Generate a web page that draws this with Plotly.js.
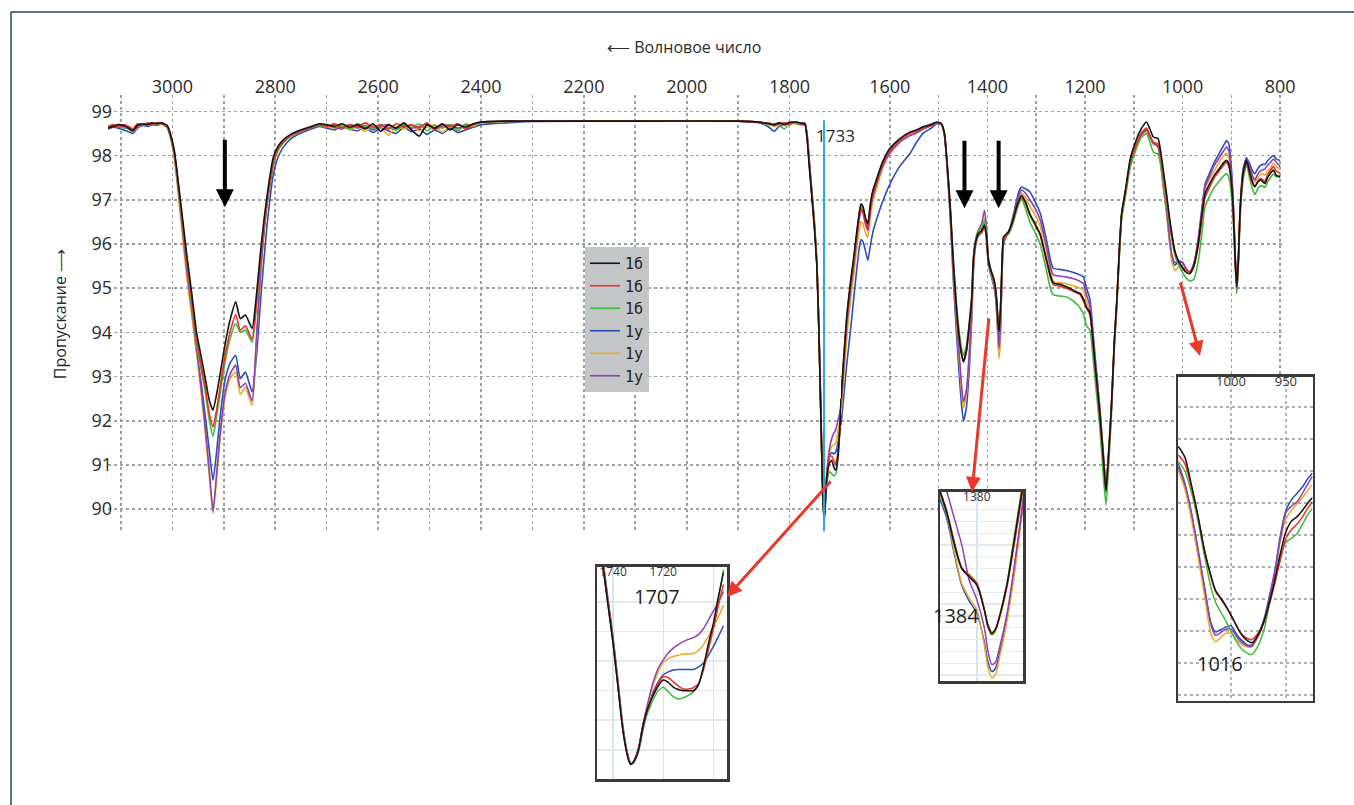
<!DOCTYPE html>
<html><head><meta charset="utf-8">
<script src="https://cdn.plot.ly/plotly-3.0.1.min.js"></script>
<style>html,body{margin:0;padding:0;background:#fff}#chart{width:1354px;height:805px}</style>
</head><body><div id="chart"></div>
<script>
// ---------- main spectrum: wavenumbers (cm-1) ----------
const wavenumber = [
 3125,3115,3105,3095,3085,3077,3068,3058,3048,3040,3030,3021,3010,3004,2996,2988,2980,2972,2962,2953,
 2944,2936,2928,2921,2914,2908,2898,2888,2877,2868,2858,2845,2837,2828,2817,2804,2795,2785,2770,2752,2735,2714,
 2700,2685,2670,2655,2640,2625,2610,2595,2580,2565,2550,2535,2520,2505,2490,2475,2460,2445,2430,2415,2400,
 2380,2350,2300,2100,1900,1860,1850,1840,1830,1820,1810,1800,1790,1780,1774,
 1770,1766,1762,1757,1752,1747,1743,1740,1737,1735,1733,1731,1729,1726,1722,1718,1714,1710,1706,1702,1700,
 1694,1688,1680,1675,1668,1662,1659,1655,1650,1645,
 1640,1635,1630,1615,1600,1580,1559,1545,1532,1515,
 1504,1494,1488,1483,1476,1470,1460,1453,1449,1443,
 1437,1432,1429,1425,1419,1412,1406,1402,1398,1393,
 1388,1384,1381,1378,1376,1373,1370,1367,1362,1357,
 1352,1347,1340,1335,1330,1322,1313,1302,1292,1280,
 1270,1265,1250,1238,1225,1215,1210,1203,1197,1190,
 1180,1170,1162,1157,1152,1146,1140,1135,1130,1125,
 1116,1108,1095,1085,1074,1067,1060,1054,1050,1045,
 1040,1033,1027,1022,1016,1008,1000,992,985,977,
 968,960,954,944,935,925,915,910,905,900,
 896,892,889,886,882,876,869,862,857,852,
 846,840,835,831,826,820,814,808,800
];

// ---------- transmittance of six samples (%) ----------
const black1b = [
 98.62,98.66,98.70,98.68,98.62,98.56,98.68,98.72,98.70,98.74,98.72,98.74,98.68,98.50,98.10,97.35,96.55,95.75,94.85,94.00,
 93.45,92.95,92.45,92.24,92.60,93.00,93.70,94.27,94.69,94.31,94.39,94.09,94.80,95.90,97.00,97.95,98.20,98.35,98.48,98.57,98.64,98.72,
 98.70,98.66,98.72,98.64,98.70,98.60,98.72,98.55,98.70,98.62,98.74,98.58,98.44,98.70,98.62,98.72,98.58,98.70,98.64,98.72,98.76,
 98.77,98.78,98.78,98.78,98.78,98.76,98.74,98.72,98.70,98.74,98.70,98.75,98.76,98.74,98.72,
 98.72,98.40,97.80,97.10,96.40,95.50,94.00,92.50,91.00,90.20,89.72,90.00,90.50,90.85,91.05,91.10,90.95,90.88,91.20,91.90,92.50,
 93.50,94.40,95.20,95.60,96.25,96.75,96.91,96.85,96.60,96.46,
 96.90,97.20,97.37,97.85,98.16,98.38,98.53,98.58,98.65,98.70,
 98.76,98.72,98.50,97.90,96.80,95.63,94.12,93.50,93.33,93.60,
 94.20,94.80,95.60,96.00,96.23,96.30,96.42,96.20,95.63,95.40,
 95.25,95.05,94.73,94.20,94.01,94.60,95.60,96.16,96.22,96.27,
 96.40,96.57,96.85,97.00,97.10,96.95,96.68,96.45,96.23,95.70,
 95.25,95.12,95.08,95.03,94.96,94.90,94.88,94.75,94.57,94.45,
 93.35,92.20,91.10,90.39,91.20,92.30,93.80,94.70,95.80,96.70,
 97.30,97.89,98.35,98.60,98.76,98.60,98.42,98.40,98.38,98.10,
 97.70,97.14,96.60,96.23,95.85,95.60,95.45,95.35,95.33,95.50,
 96.00,96.70,97.14,97.37,97.55,97.70,97.85,97.89,97.80,97.40,
 96.70,95.60,95.03,95.60,96.80,97.60,97.89,97.60,97.40,97.29,
 97.40,97.45,97.40,97.37,97.50,97.60,97.67,97.55,97.51
];
const red1b = [
 98.66,98.70,98.64,98.70,98.66,98.60,98.72,98.68,98.74,98.70,98.74,98.72,98.66,98.48,98.05,97.30,96.45,95.60,94.70,93.85,
 93.25,92.75,92.15,91.86,92.25,92.70,93.45,94.00,94.40,94.05,94.15,93.84,94.60,95.75,96.90,97.85,98.15,98.30,98.45,98.55,98.62,98.70,
 98.66,98.72,98.62,98.70,98.66,98.74,98.64,98.70,98.60,98.72,98.66,98.70,98.62,98.74,98.58,98.70,98.66,98.72,98.60,98.70,98.76,
 98.77,98.78,98.78,98.78,98.78,98.76,98.72,98.74,98.68,98.72,98.74,98.70,98.76,98.72,98.70,
 98.70,98.42,97.85,97.15,96.45,95.55,94.05,92.55,91.05,90.25,89.80,90.05,90.55,91.00,91.20,91.20,91.10,91.00,91.30,91.95,92.40,
 93.40,94.30,95.10,95.50,96.15,96.65,96.80,96.75,96.50,96.35,
 96.80,97.10,97.30,97.80,98.10,98.35,98.50,98.56,98.62,98.68,
 98.74,98.70,98.48,97.85,96.75,95.55,94.05,93.50,93.35,93.55,
 94.10,94.70,95.50,95.95,96.20,96.25,96.38,96.15,95.60,95.38,
 95.22,95.02,94.70,94.20,94.05,94.55,95.55,96.10,96.18,96.25,
 96.38,96.55,96.82,96.98,97.05,96.92,96.65,96.42,96.20,95.65,
 95.20,95.08,95.04,95.00,94.93,94.88,94.85,94.70,94.55,94.40,
 93.30,92.15,91.05,90.45,91.15,92.25,93.75,94.65,95.75,96.65,
 97.25,97.82,98.25,98.50,98.62,98.45,98.30,98.28,98.26,98.00,
 97.60,97.08,96.55,96.18,95.82,95.60,95.48,95.40,95.38,95.50,
 95.95,96.62,97.05,97.30,97.50,97.65,97.80,97.85,97.75,97.35,
 96.65,95.55,95.00,95.55,96.75,97.55,97.85,97.55,97.38,97.30,
 97.42,97.48,97.45,97.42,97.56,97.66,97.75,97.65,97.60
];
const green1b = [
 98.64,98.68,98.66,98.62,98.64,98.58,98.70,98.70,98.72,98.72,98.70,98.74,98.66,98.46,98.02,97.25,96.40,95.55,94.60,93.75,
 93.15,92.65,92.00,91.65,92.10,92.55,93.30,93.85,94.20,94.00,94.05,93.78,94.55,95.70,96.85,97.80,98.12,98.28,98.44,98.54,98.62,98.68,
 98.64,98.70,98.66,98.60,98.72,98.66,98.62,98.70,98.64,98.58,98.70,98.64,98.72,98.56,98.68,98.62,98.70,98.56,98.70,98.68,98.75,
 98.76,98.77,98.78,98.78,98.78,98.76,98.74,98.70,98.72,98.68,98.60,98.72,98.74,98.70,98.70,
 98.70,98.45,97.88,97.18,96.48,95.58,94.10,92.60,91.05,90.25,89.80,90.00,90.45,90.70,90.85,90.80,90.75,90.80,91.10,91.85,92.50,
 93.45,94.35,95.15,95.55,96.20,96.70,96.85,96.80,96.55,96.40,
 96.85,97.15,97.32,97.82,98.12,98.36,98.52,98.57,98.64,98.72,
 98.74,98.70,98.50,97.90,96.85,95.70,94.25,93.65,93.48,93.70,
 94.25,94.85,95.65,96.05,96.30,96.35,96.53,96.25,95.65,95.42,
 95.25,95.05,94.72,94.18,94.00,94.55,95.55,96.12,96.18,96.22,
 96.32,96.48,96.75,96.92,97.03,96.80,96.50,96.25,96.00,95.45,
 94.95,94.85,94.82,94.80,94.72,94.62,94.55,94.40,94.15,94.05,
 93.00,91.90,90.70,90.09,90.90,92.10,93.60,94.55,95.65,96.55,
 97.15,97.70,98.15,98.40,98.50,98.30,98.08,98.05,98.02,97.80,
 97.45,96.95,96.45,96.10,95.75,95.52,95.35,95.22,95.16,95.20,
 95.60,96.30,96.85,97.10,97.28,97.42,97.55,97.59,97.50,97.10,
 96.45,95.45,94.88,95.45,96.60,97.45,97.80,97.45,97.25,97.12,
 97.25,97.32,97.30,97.28,97.40,97.50,97.58,97.52,97.55
];
const blue1u = [
 98.60,98.64,98.62,98.58,98.54,98.50,98.62,98.68,98.66,98.70,98.68,98.72,98.64,98.45,98.00,97.20,96.30,95.40,94.45,93.55,
 92.85,92.10,91.30,90.65,91.30,92.00,92.90,93.30,93.48,92.95,93.10,92.65,93.40,94.80,96.30,97.55,97.95,98.18,98.38,98.50,98.58,98.66,
 98.62,98.58,98.66,98.60,98.56,98.64,98.52,98.62,98.56,98.50,98.64,98.54,98.60,98.48,98.58,98.50,98.62,98.52,98.58,98.64,98.70,
 98.72,98.74,98.77,98.78,98.78,98.74,98.70,98.64,98.55,98.66,98.70,98.72,98.74,98.72,98.74,
 98.72,98.50,97.95,97.25,96.55,95.60,94.15,92.65,91.10,90.30,89.85,90.05,90.50,90.90,91.20,91.28,91.25,91.30,91.50,91.75,91.90,
 92.60,93.30,94.10,94.65,95.40,95.95,96.10,96.05,95.85,95.63,
 95.95,96.25,96.45,96.95,97.35,97.75,98.04,98.30,98.50,98.62,
 98.72,98.70,98.45,97.80,96.55,95.20,93.40,92.35,92.00,92.30,
 93.20,94.30,95.30,95.90,96.18,96.25,96.45,96.10,95.55,95.30,
 95.10,94.85,94.45,93.80,93.48,94.10,95.30,96.00,96.15,96.25,
 96.42,96.65,97.00,97.20,97.29,97.25,97.18,96.95,96.70,96.15,
 95.60,95.45,95.42,95.40,95.36,95.32,95.30,95.25,95.00,94.75,
 93.55,92.35,91.20,90.50,91.20,92.30,93.75,94.65,95.75,96.65,
 97.25,97.80,98.25,98.48,98.60,98.45,98.30,98.25,98.20,97.85,
 97.35,96.75,96.10,95.70,95.52,95.60,95.58,95.42,95.35,95.55,
 96.10,96.85,97.35,97.62,97.85,98.05,98.25,98.34,98.25,97.70,
 96.90,95.70,95.02,95.60,96.85,97.70,97.95,97.80,97.65,97.59,
 97.70,97.78,97.80,97.80,97.88,97.95,98.00,97.92,97.89
];
const orange1u = [
 98.62,98.66,98.68,98.64,98.60,98.54,98.66,98.70,98.68,98.72,98.70,98.72,98.62,98.40,97.90,97.05,96.15,95.25,94.35,93.55,
 92.60,91.70,90.70,89.90,90.70,91.50,92.50,92.95,93.10,92.60,92.75,92.35,93.70,95.40,96.75,97.75,98.10,98.28,98.44,98.54,98.62,98.70,
 98.66,98.62,98.70,98.58,98.66,98.54,98.68,98.62,98.46,98.66,98.60,98.70,98.56,98.64,98.70,98.52,98.66,98.60,98.72,98.66,98.74,
 98.76,98.77,98.78,98.78,98.78,98.76,98.72,98.70,98.66,98.72,98.68,98.74,98.72,98.70,98.72,
 98.70,98.45,97.90,97.20,96.50,95.58,94.10,92.60,91.08,90.28,89.85,90.05,90.55,90.98,91.30,91.42,91.45,91.50,91.75,92.00,92.15,
 93.00,93.90,94.80,95.20,95.90,96.35,96.50,96.45,96.25,96.15,
 96.60,96.95,97.15,97.70,98.05,98.30,98.45,98.50,98.60,98.68,
 98.74,98.70,98.46,97.85,96.70,95.40,93.70,92.65,92.28,92.60,
 93.50,94.50,95.45,95.95,96.25,96.35,96.58,96.25,95.62,95.35,
 95.15,94.90,94.50,93.75,93.40,94.05,95.35,96.05,96.18,96.25,
 96.40,96.60,96.90,97.08,97.15,97.05,96.85,96.65,96.40,95.90,
 95.35,95.15,95.12,95.10,95.06,95.02,95.00,94.95,94.70,94.50,
 93.40,92.25,91.15,90.50,91.20,92.30,93.75,94.65,95.75,96.65,
 97.25,97.80,98.22,98.45,98.55,98.40,98.25,98.22,98.18,97.82,
 97.30,96.70,96.05,95.60,95.40,95.48,95.47,95.38,95.35,95.52,
 96.05,96.75,97.25,97.48,97.65,97.85,98.00,98.05,97.95,97.45,
 96.70,95.55,94.88,95.50,96.75,97.60,97.85,97.65,97.48,97.40,
 97.50,97.58,97.58,97.56,97.64,97.72,97.82,97.75,97.70
];
const purple1u = [
 98.64,98.68,98.66,98.66,98.60,98.56,98.68,98.70,98.70,98.72,98.72,98.74,98.64,98.44,97.98,97.18,96.30,95.40,94.50,93.65,
 92.75,91.85,90.85,89.95,90.80,91.60,92.60,93.05,93.26,92.75,92.85,92.45,93.80,95.45,96.80,97.78,98.12,98.30,98.45,98.55,98.62,98.70,
 98.68,98.64,98.60,98.70,98.62,98.68,98.58,98.66,98.70,98.60,98.68,98.62,98.66,98.72,98.60,98.66,98.70,98.62,98.68,98.70,98.76,
 98.77,98.78,98.78,98.78,98.78,98.76,98.74,98.72,98.70,98.74,98.72,98.74,98.76,98.74,98.72,
 98.72,98.45,97.90,97.20,96.50,95.58,94.10,92.60,91.08,90.28,89.85,90.05,90.55,91.00,91.40,91.60,91.72,91.80,92.00,92.20,92.30,
 93.30,94.20,95.00,95.40,96.10,96.60,96.75,96.70,96.45,96.30,
 96.75,97.05,97.25,97.75,98.05,98.30,98.45,98.52,98.60,98.68,
 98.74,98.70,98.48,97.85,96.70,95.45,93.85,92.80,92.43,92.70,
 93.55,94.55,95.50,96.00,96.30,96.45,96.76,96.40,95.70,95.42,
 95.20,94.95,94.60,94.00,93.65,94.20,95.40,96.08,96.20,96.28,
 96.42,96.62,96.95,97.12,97.22,97.15,97.00,96.80,96.55,96.00,
 95.45,95.30,95.27,95.25,95.22,95.18,95.15,95.10,94.85,94.60,
 93.45,92.30,91.15,90.45,91.15,92.25,93.70,94.60,95.70,96.60,
 97.22,97.78,98.22,98.46,98.58,98.42,98.28,98.24,98.20,97.88,
 97.40,96.80,96.15,95.75,95.58,95.62,95.58,95.42,95.36,95.55,
 96.10,96.80,97.30,97.55,97.78,97.95,98.12,98.20,98.10,97.60,
 96.85,95.65,95.00,95.55,96.80,97.65,97.90,97.72,97.55,97.45,
 97.58,97.66,97.68,97.70,97.78,97.85,97.92,97.85,97.75
];

// ---------- inset "1707" ----------
const wnInsetA = [1746,1744,1742,1740,1738,1736,1734,1733,1732,1730,1728,1726,1724,1722,1720,1718,1716,1714,1712,1710,1708,1706,1704,1702,1700,1698,1696];
const insetA_black  = [93.70,93.10,92.45,91.80,91.05,90.30,89.85,89.75,89.78,89.98,90.42,90.72,90.92,91.08,91.18,91.14,91.06,91.02,91.00,91.00,91.00,91.10,91.40,91.80,92.15,92.60,93.00];
const insetA_red    = [93.72,93.12,92.48,91.82,91.06,90.32,89.86,89.76,89.79,90.00,90.44,90.72,90.95,91.12,91.24,91.22,91.15,91.08,91.03,91.03,91.05,91.12,91.35,91.70,92.05,92.45,92.80];
const insetA_green  = [93.68,93.08,92.44,91.80,91.06,90.32,89.86,89.76,89.80,90.00,90.40,90.65,90.85,91.00,91.06,90.98,90.90,90.86,90.88,90.92,90.98,91.10,91.40,91.75,92.10,92.55,93.05];
const insetA_blue   = [93.75,93.20,92.55,91.90,91.15,90.38,89.90,89.78,89.78,89.95,90.35,90.70,90.98,91.15,91.27,91.32,91.35,91.36,91.36,91.36,91.36,91.40,91.47,91.60,91.75,91.92,92.10];
const insetA_orange = [93.72,93.14,92.50,91.86,91.10,90.35,89.88,89.77,89.79,89.98,90.44,90.80,91.10,91.32,91.48,91.54,91.58,91.60,91.62,91.62,91.63,91.68,91.78,91.92,92.08,92.25,92.45];
const insetA_purple = [93.74,93.16,92.52,91.88,91.12,90.36,89.88,89.77,89.79,90.00,90.45,90.82,91.15,91.38,91.52,91.64,91.72,91.78,91.83,91.87,91.90,91.95,92.05,92.20,92.35,92.50,92.68];

// ---------- inset "1384" ----------
const wnInsetB = [1390,1388,1386,1384,1382,1380,1378,1377,1376,1375,1374,1372,1370,1368,1367];
const insetB_black  = [96.55,96.15,95.62,95.20,95.06,94.92,94.50,94.22,94.10,94.18,94.38,94.92,95.70,96.50,96.90];
const insetB_red    = [96.55,96.18,95.65,95.22,95.08,94.95,94.52,94.25,94.12,94.18,94.36,94.88,95.62,96.42,96.85];
const insetB_green  = [96.50,96.12,95.60,95.20,95.10,94.96,94.50,94.20,94.08,94.15,94.38,94.95,95.75,96.55,96.95];
const insetB_blue   = [96.40,96.05,95.45,94.92,94.65,94.45,93.96,93.62,93.46,93.52,93.75,94.35,95.20,96.20,96.70];
const insetB_orange = [96.50,96.12,95.50,94.95,94.70,94.50,93.90,93.52,93.35,93.42,93.68,94.30,95.10,96.10,96.60];
const insetB_purple = [96.80,96.50,96.05,95.60,95.00,94.68,94.20,93.80,93.58,93.62,93.85,94.42,95.25,96.15,96.60];

// ---------- inset "1016" ----------
const wnInsetC = [1048,1042,1036,1030,1024,1018,1014,1010,1006,1000,995,990,985,981,976,970,965,960,955,950,945,940,935,930,926];
const insetC_black  = [97.28,97.18,96.92,96.63,96.30,96.06,95.93,95.87,95.81,95.70,95.60,95.51,95.46,95.44,95.50,95.64,95.82,96.03,96.28,96.48,96.58,96.62,96.68,96.75,96.80];
const insetC_red    = [97.20,97.12,96.90,96.62,96.30,96.05,95.92,95.86,95.80,95.70,95.60,95.52,95.48,95.47,95.52,95.63,95.80,96.00,96.22,96.42,96.50,96.55,96.62,96.70,96.76];
const insetC_green  = [97.14,97.05,96.85,96.58,96.25,95.95,95.82,95.74,95.67,95.55,95.45,95.38,95.34,95.33,95.40,95.56,95.80,96.02,96.24,96.38,96.42,96.46,96.55,96.64,96.70];
const insetC_blue   = [97.09,96.92,96.65,96.30,95.95,95.62,95.54,95.56,95.58,95.60,95.52,95.46,95.42,95.42,95.50,95.66,95.88,96.12,96.45,96.68,96.78,96.84,96.90,96.98,97.03];
const insetC_orange = [97.06,96.88,96.60,96.25,95.88,95.52,95.45,95.48,95.52,95.53,95.47,95.42,95.40,95.40,95.48,95.63,95.84,96.08,96.40,96.60,96.68,96.74,96.80,96.87,96.92];
const insetC_purple = [97.12,96.94,96.66,96.32,95.96,95.60,95.51,95.53,95.56,95.57,95.50,95.44,95.41,95.41,95.49,95.64,95.86,96.10,96.42,96.66,96.72,96.76,96.84,96.93,97.00];

// ---------- labels ----------
const seriesNames = ['1б','1б','1б','1у','1у','1у'];
const markWavenumber = 1733;
const mainTicks = [3100,3000,2900,2800,2700,2600,2500,2400,2300,2200,2100,2000,1900,1800,1700];
const rightTicks = [1700,1600,1500,1400,1300,1200,1100,1000,900,800];
const yTicks = [90,91,92,93,94,95,96,97,98,99];

// ---------- styling ----------
const series = [
  {name:seriesNames[0], color:'#141414', main:black1b,  a:insetA_black,  b:insetB_black,  c:insetC_black,  rank:1},
  {name:seriesNames[1], color:'#ee2f24', main:red1b,    a:insetA_red,    b:insetB_red,    c:insetC_red,    rank:2},
  {name:seriesNames[2], color:'#3fbb3a', main:green1b,  a:insetA_green,  b:insetB_green,  c:insetC_green,  rank:3},
  {name:seriesNames[3], color:'#2b4eb8', main:blue1u,   a:insetA_blue,   b:insetB_blue,   c:insetC_blue,   rank:4},
  {name:seriesNames[4], color:'#e9a92a', main:orange1u, a:insetA_orange, b:insetB_orange, c:insetC_orange, rank:5},
  {name:seriesNames[5], color:'#9040b4', main:purple1u, a:insetA_purple, b:insetB_purple, c:insetC_purple, rank:6}
];
series.forEach(s=>{
  if(s.main.length!==wavenumber.length) throw new Error('main length '+s.rank+': '+s.main.length+' vs '+wavenumber.length);
  if(s.a.length!==wnInsetA.length) throw new Error('insetA length '+s.rank);
  if(s.b.length!==wnInsetB.length) throw new Error('insetB length '+s.rank);
  if(s.c.length!==wnInsetC.length) throw new Error('insetC length '+s.rank);
});

const W=1354,H=805, L=108, R=30, T=95, B=20;
const PW=W-L-R, PH=H-T-B;
const px2x = p => (p-L)/PW;
const py2y = p => (H-B-p)/PH;

function pick(keep, ys){ const x=[],y=[]; wavenumber.forEach((w,i)=>{ if(keep(w)){x.push(w);y.push(ys[i]);} }); return {x,y}; }

const drawOrder = [3,4,5,2,1,0];
const traces = [];
drawOrder.forEach(i=>{
  const s = series[i];
  const left = pick(w=>w>=1700, s.main), right = pick(w=>w<=1700, s.main);
  traces.push({type:'scatter',mode:'lines',name:s.name,legendgroup:'g'+i,legendrank:s.rank,
    x:left.x,y:left.y,xaxis:'x',yaxis:'y',line:{color:s.color,width:1.6,shape:'spline',smoothing:0.5}});
  traces.push({type:'scatter',mode:'lines',name:s.name,legendgroup:'g'+i,showlegend:false,
    x:right.x,y:right.y,xaxis:'x2',yaxis:'y',line:{color:s.color,width:1.6,shape:'spline',smoothing:0.5}});
});
drawOrder.forEach(i=>{
  const s = series[i];
  traces.push({type:'scatter',mode:'lines',name:s.name,legendgroup:'g'+i,showlegend:false,
    x:wnInsetA,y:s.a,xaxis:'x3',yaxis:'y2',line:{color:s.color,width:1.5,shape:'spline',smoothing:0.8}});
  traces.push({type:'scatter',mode:'lines',name:s.name,legendgroup:'g'+i,showlegend:false,
    x:wnInsetB,y:s.b,xaxis:'x4',yaxis:'y3',line:{color:s.color,width:1.5,shape:'spline',smoothing:0.8}});
  traces.push({type:'scatter',mode:'lines',name:s.name,legendgroup:'g'+i,showlegend:false,
    x:wnInsetC,y:s.c,xaxis:'x5',yaxis:'y4',line:{color:s.color,width:1.5,shape:'spline',smoothing:0.8}});
});

const tickFont = {family:'Open Sans, Noto Sans, sans-serif', size:18, color:'#2b2b2b'};
const gridMain = {showgrid:true, gridcolor:'#97a3ab', griddash:'dot', gridwidth:1.6, zeroline:false, showline:false, ticks:''};
const insetBox = {showline:true, mirror:true, linecolor:'#3a3a3a', linewidth:2.5, zeroline:false, ticks:''};

const dLeft = [0, px2x(841)], dRight=[px2x(841), px2x(1283)];
const ann = (px,py,text,size,color) => ({xref:'paper', yref:'paper', x:px2x(px), y:py2y(py), xanchor:'center', yanchor:'middle',
  text:text, showarrow:false, font:{family:'Open Sans, sans-serif', size:size, color:color}});
const layout = {
  width:W, height:H, margin:{l:L,r:R,t:T,b:B},
  paper_bgcolor:'#ffffff', plot_bgcolor:'#ffffff',
  showlegend:true,
  legend:{x:px2x(585), y:py2y(247), xanchor:'left', yanchor:'top', bgcolor:'#c3c5c7', borderwidth:0,
    font:{family:'DejaVu Sans Mono, monospace', size:15, color:'#222'}, tracegroupgap:0, itemwidth:30, traceorder:'normal'},
  xaxis: Object.assign({}, gridMain, {domain:dLeft, anchor:'y', side:'top', range:[3125.2,1700],
    tickmode:'array', tickvals:mainTicks, ticktext:mainTicks.map(v=>v%200===0?String(v):''), tickfont:tickFont, ticklabelstandoff:-3}),
  xaxis2: Object.assign({}, gridMain, {domain:dRight, anchor:'y', side:'top', range:[1700,794.3],
    tickmode:'array', tickvals:rightTicks, ticktext:rightTicks.map(v=>(v%200===0 && v!==1700)?String(v):''), tickfont:tickFont, ticklabelstandoff:-3}),
  yaxis: Object.assign({}, gridMain, {domain:[py2y(533),py2y(95)], anchor:'x', range:[89.46,99.37],
    tickmode:'array', tickvals:yTicks, tickfont:tickFont, ticklabelstandoff:-5,
    title:{text:'Пропускание ⟶', font:{family:'Open Sans, sans-serif', size:16, color:'#2b2b2b'}, standoff:20}}),
  // inset 1707
  xaxis3: Object.assign({}, insetBox, {domain:[px2x(597),px2x(727)], anchor:'y2', side:'top', range:[1746.4,1694.6],
    tickmode:'array', tickvals:[1740,1720,1700], ticklabelposition:'inside', showgrid:true, gridcolor:'#d5e3ec', gridwidth:1.5,
    tickfont:{family:'Open Sans, sans-serif', size:12, color:'#333'}}),
  yaxis2: Object.assign({}, insetBox, {domain:[py2y(779.3),py2y(566.7)], anchor:'x3', range:[89.5,93.1],
    tickmode:'array', tickvals:[90,90.5,91,91.5,92,92.5,93], showticklabels:false, showgrid:true, gridcolor:'#e1e8ee', gridwidth:1.5}),
  // inset 1384
  xaxis4: Object.assign({}, insetBox, {domain:[px2x(940),px2x(1023)], anchor:'y3', side:'top', range:[1389.8,1367.7],
    tickmode:'array', tickvals:[1380], ticklabelposition:'inside', showgrid:true, gridcolor:'#d5e3ec', gridwidth:1.5,
    tickfont:{family:'Open Sans, sans-serif', size:12, color:'#333'}}),
  yaxis3: Object.assign({}, insetBox, {domain:[py2y(681),py2y(491.7)], anchor:'x4', range:[93.3,96.5],
    tickmode:'array', tickvals:[93.4,93.6,93.8,94,94.2,94.4,94.6,94.8,95,95.2,95.4,95.6,95.8,96,96.2,96.4], showticklabels:false,
    showgrid:true, gridcolor:'#e3e9ee', gridwidth:1.2}),
  // inset 1016
  xaxis5: Object.assign({}, insetBox, {domain:[px2x(1178),px2x(1312.7)], anchor:'y4', side:'top', range:[1048.2,925.6],
    tickmode:'array', tickvals:[1000,950], ticklabelposition:'inside', showgrid:true, gridcolor:'#a9b7c1', griddash:'dot', gridwidth:1.5,
    tickfont:{family:'Open Sans, sans-serif', size:13, color:'#333'}}),
  yaxis4: Object.assign({}, insetBox, {domain:[py2y(700.7),py2y(376.7)], anchor:'x5', range:[94.897,97.934],
    tickmode:'array', tickvals:[94.95,95.25,95.55,95.85,96.15,96.45,96.75,97.05,97.35,97.65], showticklabels:false,
    showgrid:true, gridcolor:'#a9b1b7', griddash:'dot', gridwidth:1.5}),
  shapes:[
    {type:'line', xref:'x', yref:'y', x0:markWavenumber, x1:markWavenumber, y0:89.5, y1:98.8, line:{color:'#2aa8e0', width:2}, layer:'above'},
    {type:'line', xref:'paper', yref:'paper', x0:px2x(11), x1:px2x(1354), y0:py2y(12), y1:py2y(12), line:{color:'#24475a', width:1.5}},
    {type:'line', xref:'paper', yref:'paper', x0:px2x(11), x1:px2x(11), y0:py2y(12), y1:py2y(805), line:{color:'#24475a', width:1.5}}
  ],
  annotations:[
    ann(684, 47, '⟵ Волновое число', 16, '#2b2b2b'),
    ann(835, 136, String(markWavenumber), 17, '#2b2b2b'),
    ann(657, 596, '1707', 20, '#1f1f1f'),
    ann(956, 615, '1384', 20, '#1f1f1f'),
    ann(1220, 663, '1016', 20, '#1f1f1f'),
    // black arrows
    {xref:'x', yref:'y', x:2898, y:96.83, ax:0, ay:-69, text:'', showarrow:true, arrowhead:2, arrowsize:0.9, arrowwidth:4, arrowcolor:'#000'},
    {xref:'x2', yref:'y', x:1447, y:96.81, ax:0, ay:-69, text:'', showarrow:true, arrowhead:2, arrowsize:0.9, arrowwidth:4, arrowcolor:'#000'},
    {xref:'x2', yref:'y', x:1377, y:96.81, ax:0, ay:-69, text:'', showarrow:true, arrowhead:2, arrowsize:0.9, arrowwidth:4, arrowcolor:'#000'},
    // red arrows to insets
    {xref:'paper', yref:'paper', x:px2x(727), y:py2y(597), ax:105, ay:-117, text:'', showarrow:true, arrowhead:2, arrowsize:1, arrowwidth:3, arrowcolor:'#e8392a'},
    {xref:'paper', yref:'paper', x:px2x(972), y:py2y(492), ax:17, ay:-175, text:'', showarrow:true, arrowhead:2, arrowsize:1, arrowwidth:3, arrowcolor:'#e8392a'},
    {xref:'paper', yref:'paper', x:px2x(1200), y:py2y(356), ax:-20, ay:-75, text:'', showarrow:true, arrowhead:2, arrowsize:1, arrowwidth:3, arrowcolor:'#e8392a'}
  ]
};

Plotly.newPlot('chart', traces, layout, {staticPlot:true, displayModeBar:false});
</script></body></html>
